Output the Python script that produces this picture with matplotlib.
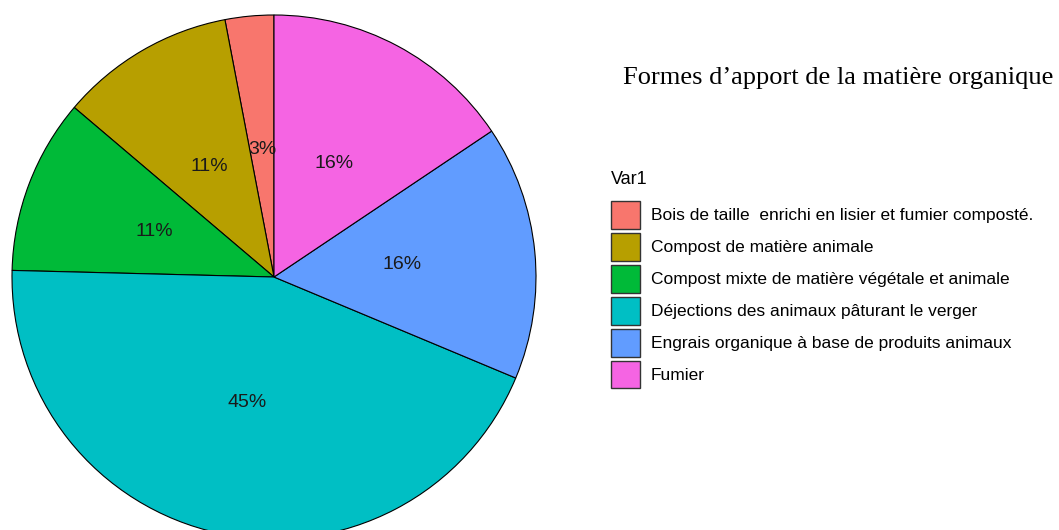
import numpy as np
import matplotlib
matplotlib.use('Agg')
import matplotlib.pyplot as plt

# categories (legend order) and their share
categories = [
    'Bois de taille  enrichi en lisier et fumier composté.',
    'Compost de matière animale',
    'Compost mixte de matière végétale et animale',
    'Déjections des animaux pâturant le verger',
    'Engrais organique à base de produits animaux',
    'Fumier',
]
shares = [3.0, 10.8, 10.8, 44.1, 15.7, 15.6]
pct_labels = ['3%', '11%', '11%', '45%', '16%', '16%']
colors = ['#F8766D', '#B79F00', '#00BA38', '#00BFC4', '#619CFF', '#F564E3']

W, H = 1059, 530
fig = plt.figure(figsize=(W / 100, H / 100), dpi=100)

# pie centre (274, 277) px from top-left, radius 262 px
cx, cy, r = 274, H - 277, 262
ax = fig.add_axes([(cx - r) / W, (cy - r) / H, 2 * r / W, 2 * r / H])
wedges, _ = ax.pie(shares, colors=colors, startangle=90, counterclock=True,
                   radius=1, wedgeprops=dict(edgecolor='black', linewidth=0.8))
ax.set_xlim(-1, 1)
ax.set_ylim(-1, 1)
ax.set_axis_off()

for w, lab in zip(wedges, pct_labels):
    ang = np.deg2rad((w.theta1 + w.theta2) / 2)
    ax.text(0.49 * np.cos(ang), 0.49 * np.sin(ang), lab, ha='center', va='center',
            fontsize=14, family='Liberation Sans', color='#1a1a1a')

fig.text(623 / W, 1 - 84 / H, 'Formes d\u2019apport de la matière organique',
         family='Liberation Serif', fontsize=19, va='baseline', ha='left')

leg = ax.legend(wedges, categories, title='Var1\n', loc='upper left',
                bbox_to_anchor=(611 / W, 1 - 171 / H), bbox_transform=fig.transFigure,
                frameon=False, borderpad=0, borderaxespad=0,
                prop=dict(family='Liberation Sans', size=12.5),
                title_fontproperties=dict(family='Liberation Sans', size=13),
                handlelength=1.67, handleheight=2.1, labelspacing=0.23,
                handletextpad=0.62, alignment='left')
leg.get_title().set_linespacing(0.37)
for p in leg.get_patches():
    p.set_edgecolor('#333333')
    p.set_linewidth(1.0)

fig.savefig('out.png', dpi=100)
